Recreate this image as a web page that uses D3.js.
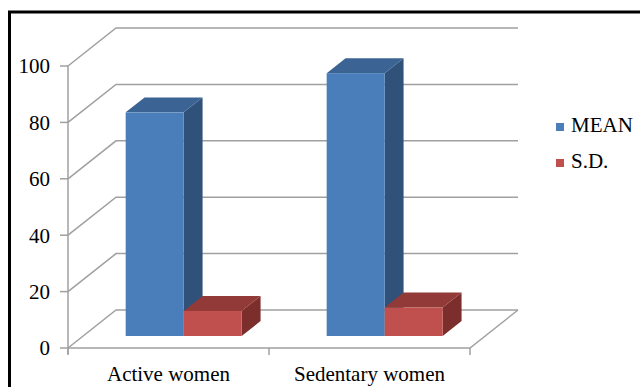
<!DOCTYPE html>
<html>
<head>
<meta charset="utf-8">
<script src="https://cdn.jsdelivr.net/npm/d3@7"></script>
<style>
  html, body { margin: 0; padding: 0; background: #fff; }
  svg { display: block; }
  svg text { font-family: 'Liberation Serif', 'Times New Roman', 'DejaVu Serif', serif; }
</style>
</head>
<body>
<svg id="chart" width="640" height="387"></svg>
<script>
// chart data
const categories = ["Active women", "Sedentary women"];
const seriesNames = ["MEAN", "S.D."];
const meanValues = [79.3, 93.2];
const sdValues = [8.9, 10.1];
const yTicks = [0, 20, 40, 60, 80, 100];

const FONT = "'Liberation Serif', 'Times New Roman', serif";

// colours per series: front, side, top
const palette = {
    "MEAN": {front: "#4a7ebb", side: "#30527a", top: "#3b6393"},
    "S.D.": {front: "#c0504d", side: "#7b2e2c", top: "#923a37"}
};

const svg = d3.select("#chart");

// outer frame (right and bottom edges fall outside the picture)
svg.append("rect")
    .attr("x", 9.5).attr("y", 12)
    .attr("width", 700).attr("height", 500)
    .attr("fill", "none").attr("stroke", "#000").attr("stroke-width", 3);

// front plane scales
const y = d3.scaleLinear().domain([0, 100]).range([348, 66]);
const x = d3.scaleBand().domain(categories).range([68, 470]);

// depth (oblique projection), 0 = front plane, 1 = back wall
const depthX = d3.scaleLinear().domain([0, 1]).range([0, 48]);
const depthY = d3.scaleLinear().domain([0, 1]).range([0, -38]);

const grid = svg.append("g")
    .attr("fill", "none")
    .attr("stroke", "#a0a0a0")
    .attr("stroke-width", 1.5);

const x0 = x.range()[0], x1 = x.range()[1];

// side wall + back wall gridlines
yTicks.forEach(t => {
    grid.append("polyline")
        .attr("points", [
            [x0, y(t)],
            [x0 + depthX(1), y(t) + depthY(1)],
            [x1 + depthX(1), y(t) + depthY(1)]
        ].map(p => p.join(",")).join(" "));
});

// floor outline
grid.append("polyline")
    .attr("points", [
        [x0, y(0)],
        [x1, y(0)],
        [x1 + depthX(1), y(0) + depthY(1)]
    ].map(p => p.join(",")).join(" "));

// value axis line and ticks
grid.append("line")
    .attr("x1", x0).attr("x2", x0)
    .attr("y1", y(100)).attr("y2", y(0) + 6);
yTicks.forEach(t => {
    grid.append("line")
        .attr("x1", x0 - 8).attr("x2", x0)
        .attr("y1", y(t)).attr("y2", y(t));
});

// category ticks
const catEdges = [x0].concat(categories.map(c => x(c) + x.bandwidth()));
catEdges.forEach(cx => {
    grid.append("line")
        .attr("x1", cx).attr("x2", cx)
        .attr("y1", y(0)).attr("y2", y(0) + 7);
});

// tick labels
svg.append("g")
    .selectAll("text")
    .data(yTicks)
    .join("text")
    .attr("x", 50)
    .attr("y", d => y(d))
    .attr("dy", "0.35em")
    .attr("text-anchor", "end")
    .attr("font-family", FONT)
    .attr("font-size", 21)
    .attr("fill", "#000")
    .text(d => d);

svg.append("g")
    .selectAll("text")
    .data(categories)
    .join("text")
    .attr("x", d => x(d) + x.bandwidth() / 2)
    .attr("y", 381)
    .attr("text-anchor", "middle")
    .attr("font-family", FONT)
    .attr("font-size", 21)
    .attr("fill", "#000")
    .text(d => d);

// bars
const zFront = 0.316, zBack = 0.71;
const barWidth = 58;
const inner = d3.scaleBand().domain(seriesNames).range([-barWidth, barWidth]);

const rows = [];
categories.forEach((c, i) => {
    rows.push({cat: c, series: "MEAN", value: meanValues[i]});
    rows.push({cat: c, series: "S.D.", value: sdValues[i]});
});

const bars = svg.append("g");
rows.forEach(r => {
    const left = x(r.cat) + x.bandwidth() / 2 + inner(r.series) + depthX(zFront);
    const right = left + inner.bandwidth();
    const bottom = y(0) + depthY(zFront);
    const top = y(r.value) + depthY(zFront);
    const ddx = depthX(zBack) - depthX(zFront);
    const ddy = depthY(zBack) - depthY(zFront);
    const col = palette[r.series];
    const g = bars.append("g");

    // right face
    g.append("path")
        .attr("d", d3.line()([[right, bottom], [right + ddx, bottom + ddy], [right + ddx, top + ddy], [right, top]]) + "Z")
        .attr("fill", col.side);
    // top face
    g.append("path")
        .attr("d", d3.line()([[left, top], [left + ddx, top + ddy], [right + ddx, top + ddy], [right, top]]) + "Z")
        .attr("fill", col.top);
    // front face
    g.append("rect")
        .attr("x", left).attr("y", top)
        .attr("width", right - left).attr("height", bottom - top)
        .attr("fill", col.front);
});

// legend
const legend = svg.append("g");
seriesNames.forEach((s, i) => {
    legend.append("rect")
        .attr("x", 556).attr("y", 123 + i * 36)
        .attr("width", 8).attr("height", 8)
        .attr("fill", palette[s].front);
    legend.append("text")
        .attr("x", 571).attr("y", 132 + i * 36)
        .attr("font-family", FONT)
        .attr("font-size", 21)
        .attr("fill", "#000")
        .text(s);
});
</script>
</body>
</html>
